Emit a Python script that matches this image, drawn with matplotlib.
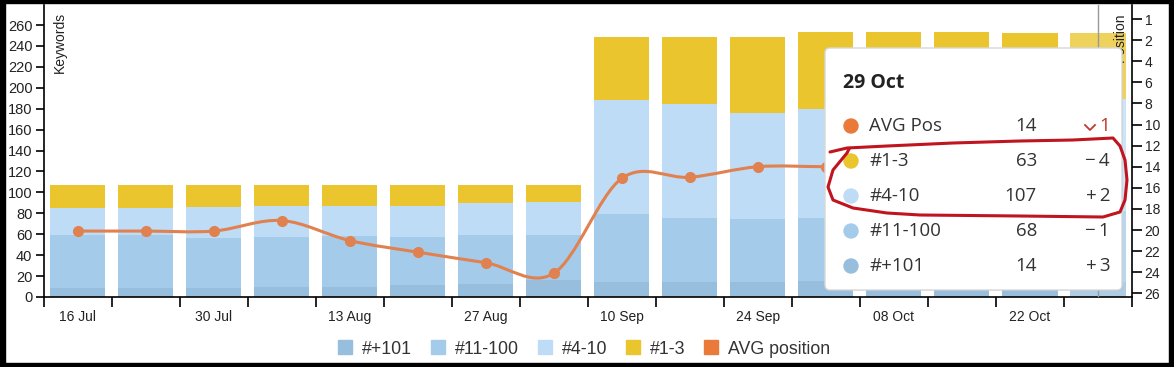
import numpy as np
import matplotlib.pyplot as plt
from matplotlib.path import Path
from matplotlib.patches import PathPatch, FancyBboxPatch, Rectangle, Circle
from matplotlib.lines import Line2D
import matplotlib.colors as mcolors

plt.rcParams['font.family'] = ['Liberation Sans', 'DejaVu Sans']

# weekly categories
weeks = ['16 Jul', '23 Jul', '30 Jul', '06 Aug', '13 Aug', '20 Aug', '27 Aug', '03 Sep',
         '10 Sep', '17 Sep', '24 Sep', '01 Oct', '08 Oct', '15 Oct', '22 Oct', '29 Oct']

# keyword counts per ranking bucket (stacked bottom -> top)
plus101 = [9, 9, 9, 10, 10, 11, 12, 16, 14, 14, 14, 15, 13, 12, 11, 14]
r11_100 = [50, 50, 47, 47, 48, 46, 47, 43, 65, 62, 61, 61, 65, 67, 69, 68]
r4_10 = [26, 26, 30, 30, 29, 30, 31, 32, 109, 109, 101, 104, 104, 105, 105, 107]
r1_3 = [22, 22, 21, 20, 20, 20, 17, 16, 61, 64, 73, 73, 71, 69, 67, 63]

# average position (right axis, reversed)
avg_pos = [20.1, 20.1, 20.1, 19.1, 21.0, 22.1, 23.1, 24.1,
           15.1, 15.0, 14.0, 14.0, 14.0, 13.0, 13.0, 14.0]

left_ticks = list(range(0, 261, 20))
right_ticks = list(range(0, 27, 2))
right_labels = ['1'] + [str(v) for v in range(2, 27, 2)]

series_names = ['#+101', '#11-100', '#4-10', '#1-3']
series_colors = ['#98bede', '#a5cbeb', '#bedcf5', '#ebc52e']
line_color = '#e0814f'
legend_line_color = '#ea7a3a'

W, H = 1174, 367


def brighten(c, amount=0.22):
    rgb = np.array(mcolors.to_rgb(c))
    return tuple(rgb + (1 - rgb) * amount)


def catmull_rom(xs, ys):
    # smooth curve through every point, drawn as cubic beziers
    n = len(xs)
    pts = np.column_stack([xs, ys]).astype(float)
    tang = np.zeros_like(pts)
    for i in range(n):
        a = pts[max(i - 1, 0)]
        b = pts[min(i + 1, n - 1)]
        tang[i] = (b - a) / 2
    verts = [tuple(pts[0])]
    codes = [Path.MOVETO]
    for i in range(1, n):
        verts += [tuple(pts[i - 1] + tang[i - 1] / 3), tuple(pts[i] - tang[i] / 3), tuple(pts[i])]
        codes += [Path.CURVE4] * 3
    return Path(verts, codes)


fig = plt.figure(figsize=(W / 100, H / 100), dpi=100)
ax = fig.add_axes([43.6 / W, (H - 297) / H, (1132 - 43.6) / W, (297 - 5) / H])
x = np.arange(len(weeks))

# stacked bars
bottom = np.zeros(len(weeks))
for vals, col in zip([plus101, r11_100, r4_10, r1_3], series_colors):
    cols = [col] * (len(weeks) - 1) + [brighten(col)]
    ax.bar(x, vals, bottom=bottom, width=0.81, color=cols, zorder=2)
    bottom += np.array(vals)

ax.set_xlim(-0.5, len(weeks) - 0.5)
ax.set_ylim(0, 279.2)
ax.set_yticks(left_ticks)
ax.set_xticks(np.arange(-0.5, len(weeks)), labels=[])
ax.set_xticks(x[::2], labels=weeks[::2], minor=True)
ax.tick_params(axis='x', which='major', length=7, width=1.2, color='black')
ax.tick_params(axis='x', which='minor', length=0, pad=9.5, labelsize=10, labelcolor='#222')
ax.tick_params(axis='y', length=6, width=1.2, pad=2, labelsize=10.5, labelcolor='#222')
for s in ['top', 'right']:
    ax.spines[s].set_visible(False)
for s in ['left', 'bottom']:
    ax.spines[s].set_linewidth(1.2)

# crosshair on hovered week
ax.axvline(x[-1], color='#999999', lw=1, zorder=3)

ax.text((59.5 - 43.6) / (1132 - 43.6), (297 - 12) / 292, 'Keywords', rotation=90,
        ha='center', va='top', fontsize=10, color='#222', transform=ax.transAxes)
ax.text((1120 - 43.6) / (1132 - 43.6), (297 - 12) / 292, 'Position', rotation=90,
        ha='center', va='top', fontsize=10, color='#222', transform=ax.transAxes)

# right axis - average position
ax2 = ax.twinx()
ax2.set_ylim(26.35, -1.33)
ax2.set_yticks(right_ticks, labels=right_labels)
ax2.tick_params(axis='y', length=7, width=1.2, pad=2, labelsize=10, labelcolor='#222')
for s in ['top', 'left', 'bottom']:
    ax2.spines[s].set_visible(False)
ax2.spines['right'].set_linewidth(1.2)
ax2.add_patch(PathPatch(catmull_rom(x, avg_pos), fill=False, ec=line_color, lw=2.2, zorder=3))
ax2.plot(x, avg_pos, 'o', ms=7, color=line_color, zorder=4)

# legend
handles = [Line2D([], [], marker='s', ls='', ms=9.5, color=c) for c in series_colors]
handles.append(Line2D([], [], marker='s', ls='', ms=9.5, color=legend_line_color))
fig.legend(handles, series_names + ['AVG position'], loc='center', bbox_to_anchor=(0.498, 0.049),
           ncol=5, frameon=False, fontsize=12.8, handlelength=0.7, handletextpad=0.6,
           columnspacing=1.1, labelcolor='#333')

# overlay in pixel coordinates: tooltip, scribble, frame
ov = fig.add_axes([0, 0, 1, 1], zorder=10)
ov.set_xlim(0, W)
ov.set_ylim(H, 0)
ov.axis('off')
ov.patch.set_alpha(0)

ov.add_patch(FancyBboxPatch((826, 49), 297, 242, boxstyle='round,pad=0,rounding_size=5',
                            fc='black', ec='none', alpha=0.08))
ov.add_patch(FancyBboxPatch((825, 48), 297, 242, boxstyle='round,pad=0,rounding_size=5',
                            fc='white', ec='#d8d8d8', lw=1))
ov.text(843, 83, weeks[-1], fontsize=14, fontweight='bold', family='Open Sans',
        va='center', color='#222')

tip_labels = ['AVG Pos'] + series_names[::-1]
tip_colors = [legend_line_color] + series_colors[::-1]
tip_series = [r1_3, r4_10, r11_100, plus101]
tip_values = [round(avg_pos[-1])] + [s[-1] for s in tip_series]
tip_changes = [str(round(avg_pos[-1] - avg_pos[-2]))]
for s in tip_series:
    d = s[-1] - s[-2]
    tip_changes.append(('+' if d > 0 else '\u2212') + '\u2009' + str(abs(d)))
for i, (lab, col, val, chg) in enumerate(zip(tip_labels, tip_colors, tip_values, tip_changes)):
    yy = 126 + 35 * i
    ov.add_patch(Circle((851, yy), 7, color=col))
    ov.text(869, yy, lab, fontsize=13.5, family='Open Sans', va='center', color='#333')
    ov.text(1037, yy, str(val), fontsize=13.5, family='Open Sans', va='center', ha='right', color='#333')
    ov.text(1110, yy, chg, fontsize=13.5, family=['Open Sans', 'DejaVu Sans'], va='center', ha='right',
            color='#c0392b' if i == 0 else '#333')

# small down chevron in front of the AVG change
ov.plot([1085, 1090, 1095], [125, 130, 125], color='#c0392b', lw=1.3)

# red hand-drawn loop
scribble = [(830, 152), (847, 148), (887, 146), (953, 143), (1020, 141), (1073, 140), (1113, 138),
            (1120, 146), (1125, 160), (1127, 180), (1125, 200), (1120, 212), (1103, 217), (1020, 216),
            (920, 215), (887, 213), (853, 208), (833, 200), (828, 187), (833, 170), (847, 153), (849, 149)]
sx, sy = zip(*scribble)
ov.plot(sx, sy, color='#c0141e', lw=2.2, solid_capstyle='round', solid_joinstyle='round')

# black frame around the screenshot
for rx, ry, rw, rh in [(0, 0, 5, H), (0, 0, W, 3), (W - 5, 0, 5, H), (0, H - 4, W, 4)]:
    ov.add_patch(Rectangle((rx, ry), rw, rh, color='black'))

fig.savefig('out.png', dpi=100)
